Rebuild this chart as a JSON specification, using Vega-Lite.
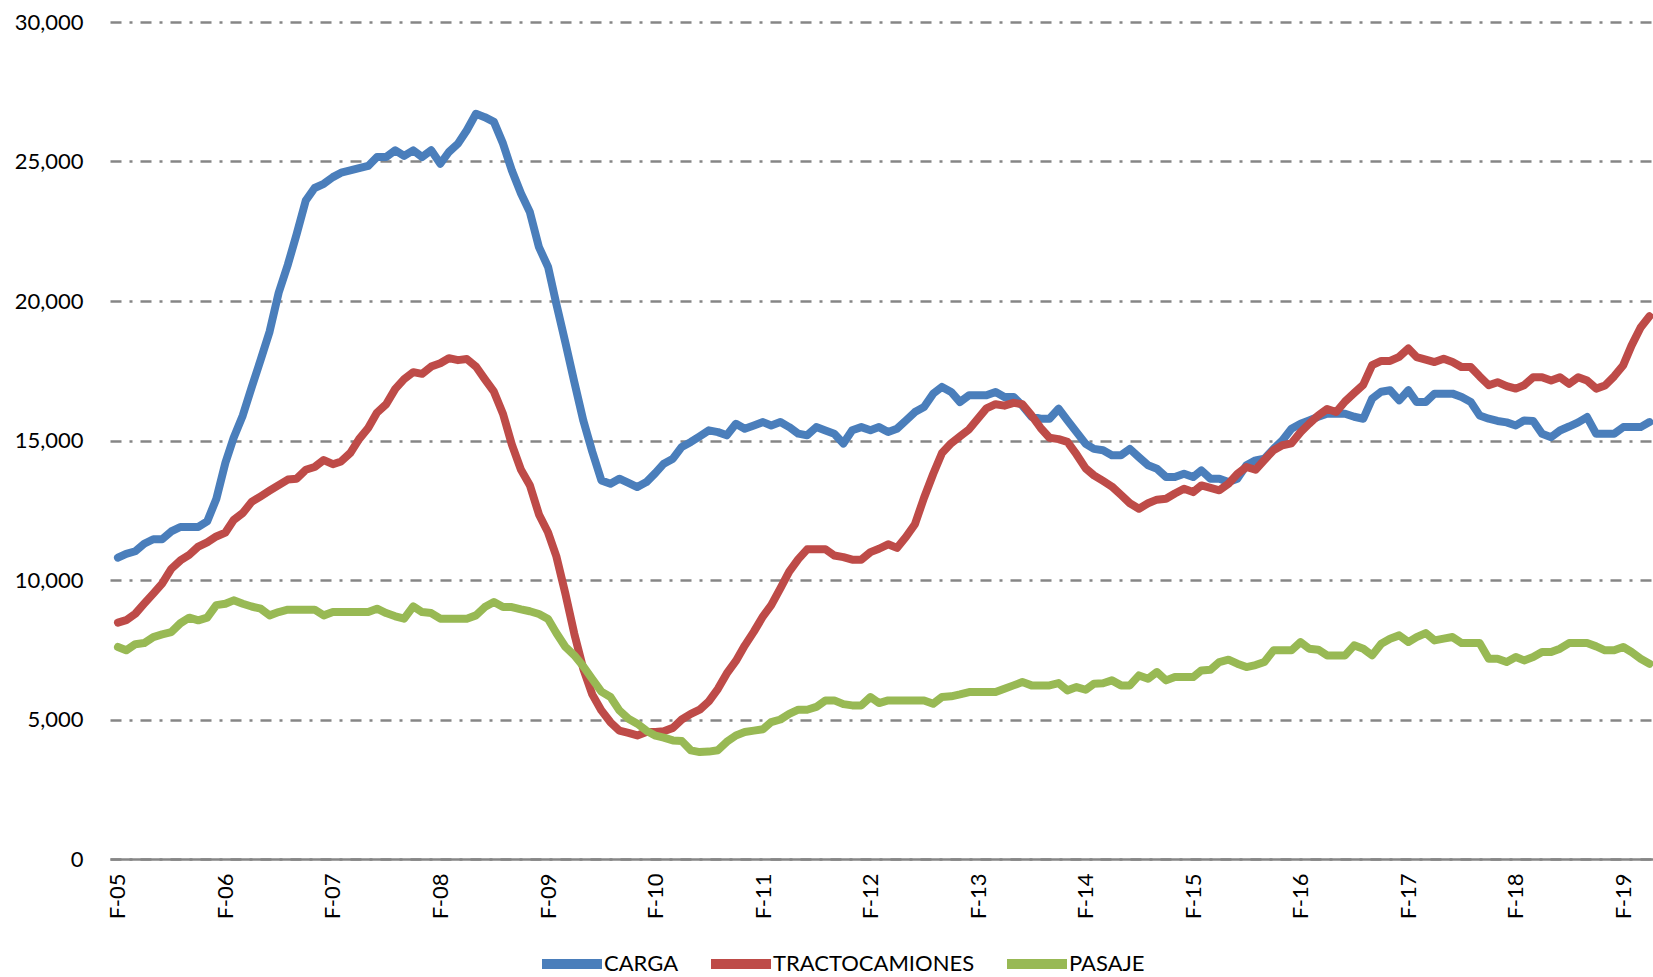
{
  "$schema": "https://vega.github.io/schema/vega-lite/v6.json",
  "width": 1543,
  "height": 837,
  "autosize": {"type": "none"},
  "padding": {"left": 110, "top": 22, "right": 0, "bottom": 118},
  "background": "white",
  "config": {"view": {"stroke": null}},
  "data": {"values": [
    {"mes":"2005-02","CARGA":10800,"TRACTOCAMIONES":8470,"PASAJE":7600},
    {"mes":"2005-03","CARGA":10940,"TRACTOCAMIONES":8560,"PASAJE":7480},
    {"mes":"2005-04","CARGA":11030,"TRACTOCAMIONES":8790,"PASAJE":7700},
    {"mes":"2005-05","CARGA":11300,"TRACTOCAMIONES":9150,"PASAJE":7740},
    {"mes":"2005-06","CARGA":11460,"TRACTOCAMIONES":9510,"PASAJE":7955},
    {"mes":"2005-07","CARGA":11460,"TRACTOCAMIONES":9870,"PASAJE":8050},
    {"mes":"2005-08","CARGA":11740,"TRACTOCAMIONES":10400,"PASAJE":8135},
    {"mes":"2005-09","CARGA":11900,"TRACTOCAMIONES":10700,"PASAJE":8450},
    {"mes":"2005-10","CARGA":11900,"TRACTOCAMIONES":10900,"PASAJE":8650},
    {"mes":"2005-11","CARGA":11900,"TRACTOCAMIONES":11200,"PASAJE":8553},
    {"mes":"2005-12","CARGA":12100,"TRACTOCAMIONES":11350,"PASAJE":8650},
    {"mes":"2006-01","CARGA":12900,"TRACTOCAMIONES":11560,"PASAJE":9100},
    {"mes":"2006-02","CARGA":14200,"TRACTOCAMIONES":11700,"PASAJE":9150},
    {"mes":"2006-03","CARGA":15100,"TRACTOCAMIONES":12150,"PASAJE":9270},
    {"mes":"2006-04","CARGA":15900,"TRACTOCAMIONES":12400,"PASAJE":9150},
    {"mes":"2006-05","CARGA":16900,"TRACTOCAMIONES":12800,"PASAJE":9050},
    {"mes":"2006-06","CARGA":17900,"TRACTOCAMIONES":13000,"PASAJE":8971},
    {"mes":"2006-07","CARGA":18900,"TRACTOCAMIONES":13200,"PASAJE":8732},
    {"mes":"2006-08","CARGA":20300,"TRACTOCAMIONES":13400,"PASAJE":8852},
    {"mes":"2006-09","CARGA":21300,"TRACTOCAMIONES":13600,"PASAJE":8936},
    {"mes":"2006-10","CARGA":22400,"TRACTOCAMIONES":13630,"PASAJE":8936},
    {"mes":"2006-11","CARGA":23600,"TRACTOCAMIONES":13950,"PASAJE":8936},
    {"mes":"2006-12","CARGA":24050,"TRACTOCAMIONES":14050,"PASAJE":8936},
    {"mes":"2007-01","CARGA":24200,"TRACTOCAMIONES":14300,"PASAJE":8732},
    {"mes":"2007-02","CARGA":24440,"TRACTOCAMIONES":14150,"PASAJE":8852},
    {"mes":"2007-03","CARGA":24600,"TRACTOCAMIONES":14250,"PASAJE":8852},
    {"mes":"2007-04","CARGA":24680,"TRACTOCAMIONES":14550,"PASAJE":8852},
    {"mes":"2007-05","CARGA":24760,"TRACTOCAMIONES":15050,"PASAJE":8852},
    {"mes":"2007-06","CARGA":24840,"TRACTOCAMIONES":15450,"PASAJE":8852},
    {"mes":"2007-07","CARGA":25160,"TRACTOCAMIONES":16000,"PASAJE":8971},
    {"mes":"2007-08","CARGA":25160,"TRACTOCAMIONES":16300,"PASAJE":8816},
    {"mes":"2007-09","CARGA":25400,"TRACTOCAMIONES":16850,"PASAJE":8700},
    {"mes":"2007-10","CARGA":25200,"TRACTOCAMIONES":17200,"PASAJE":8613},
    {"mes":"2007-11","CARGA":25400,"TRACTOCAMIONES":17450,"PASAJE":9055},
    {"mes":"2007-12","CARGA":25160,"TRACTOCAMIONES":17390,"PASAJE":8852},
    {"mes":"2008-01","CARGA":25400,"TRACTOCAMIONES":17650,"PASAJE":8816},
    {"mes":"2008-02","CARGA":24920,"TRACTOCAMIONES":17770,"PASAJE":8613},
    {"mes":"2008-03","CARGA":25340,"TRACTOCAMIONES":17950,"PASAJE":8613},
    {"mes":"2008-04","CARGA":25640,"TRACTOCAMIONES":17880,"PASAJE":8613},
    {"mes":"2008-05","CARGA":26120,"TRACTOCAMIONES":17920,"PASAJE":8613},
    {"mes":"2008-06","CARGA":26710,"TRACTOCAMIONES":17650,"PASAJE":8732},
    {"mes":"2008-07","CARGA":26590,"TRACTOCAMIONES":17200,"PASAJE":9031},
    {"mes":"2008-08","CARGA":26420,"TRACTOCAMIONES":16750,"PASAJE":9210},
    {"mes":"2008-09","CARGA":25640,"TRACTOCAMIONES":15950,"PASAJE":9031},
    {"mes":"2008-10","CARGA":24680,"TRACTOCAMIONES":14850,"PASAJE":9031},
    {"mes":"2008-11","CARGA":23850,"TRACTOCAMIONES":13950,"PASAJE":8950},
    {"mes":"2008-12","CARGA":23190,"TRACTOCAMIONES":13400,"PASAJE":8880},
    {"mes":"2009-01","CARGA":21930,"TRACTOCAMIONES":12350,"PASAJE":8780},
    {"mes":"2009-02","CARGA":21220,"TRACTOCAMIONES":11700,"PASAJE":8600},
    {"mes":"2009-03","CARGA":19900,"TRACTOCAMIONES":10850,"PASAJE":8100},
    {"mes":"2009-04","CARGA":18500,"TRACTOCAMIONES":9500,"PASAJE":7600},
    {"mes":"2009-05","CARGA":17100,"TRACTOCAMIONES":8075,"PASAJE":7300},
    {"mes":"2009-06","CARGA":15700,"TRACTOCAMIONES":6800,"PASAJE":6900},
    {"mes":"2009-07","CARGA":14600,"TRACTOCAMIONES":5900,"PASAJE":6450},
    {"mes":"2009-08","CARGA":13570,"TRACTOCAMIONES":5326,"PASAJE":6000},
    {"mes":"2009-09","CARGA":13450,"TRACTOCAMIONES":4900,"PASAJE":5805},
    {"mes":"2009-10","CARGA":13630,"TRACTOCAMIONES":4600,"PASAJE":5326},
    {"mes":"2009-11","CARGA":13480,"TRACTOCAMIONES":4520,"PASAJE":5030},
    {"mes":"2009-12","CARGA":13330,"TRACTOCAMIONES":4430,"PASAJE":4850},
    {"mes":"2010-01","CARGA":13510,"TRACTOCAMIONES":4550,"PASAJE":4600},
    {"mes":"2010-02","CARGA":13840,"TRACTOCAMIONES":4550,"PASAJE":4420},
    {"mes":"2010-03","CARGA":14170,"TRACTOCAMIONES":4580,"PASAJE":4350},
    {"mes":"2010-04","CARGA":14350,"TRACTOCAMIONES":4700,"PASAJE":4250},
    {"mes":"2010-05","CARGA":14770,"TRACTOCAMIONES":5000,"PASAJE":4227},
    {"mes":"2010-06","CARGA":14950,"TRACTOCAMIONES":5200,"PASAJE":3893},
    {"mes":"2010-07","CARGA":15150,"TRACTOCAMIONES":5350,"PASAJE":3833},
    {"mes":"2010-08","CARGA":15365,"TRACTOCAMIONES":5650,"PASAJE":3850},
    {"mes":"2010-09","CARGA":15300,"TRACTOCAMIONES":6100,"PASAJE":3900},
    {"mes":"2010-10","CARGA":15185,"TRACTOCAMIONES":6650,"PASAJE":4200},
    {"mes":"2010-11","CARGA":15600,"TRACTOCAMIONES":7100,"PASAJE":4430},
    {"mes":"2010-12","CARGA":15420,"TRACTOCAMIONES":7650,"PASAJE":4550},
    {"mes":"2011-01","CARGA":15540,"TRACTOCAMIONES":8150,"PASAJE":4600},
    {"mes":"2011-02","CARGA":15660,"TRACTOCAMIONES":8700,"PASAJE":4650},
    {"mes":"2011-03","CARGA":15540,"TRACTOCAMIONES":9100,"PASAJE":4908},
    {"mes":"2011-04","CARGA":15660,"TRACTOCAMIONES":9700,"PASAJE":5000},
    {"mes":"2011-05","CARGA":15480,"TRACTOCAMIONES":10300,"PASAJE":5200},
    {"mes":"2011-06","CARGA":15245,"TRACTOCAMIONES":10750,"PASAJE":5350},
    {"mes":"2011-07","CARGA":15185,"TRACTOCAMIONES":11100,"PASAJE":5350},
    {"mes":"2011-08","CARGA":15480,"TRACTOCAMIONES":11100,"PASAJE":5450},
    {"mes":"2011-09","CARGA":15360,"TRACTOCAMIONES":11100,"PASAJE":5685},
    {"mes":"2011-10","CARGA":15245,"TRACTOCAMIONES":10880,"PASAJE":5685},
    {"mes":"2011-11","CARGA":14890,"TRACTOCAMIONES":10820,"PASAJE":5550},
    {"mes":"2011-12","CARGA":15365,"TRACTOCAMIONES":10730,"PASAJE":5506},
    {"mes":"2012-01","CARGA":15480,"TRACTOCAMIONES":10730,"PASAJE":5506},
    {"mes":"2012-02","CARGA":15365,"TRACTOCAMIONES":11000,"PASAJE":5805},
    {"mes":"2012-03","CARGA":15480,"TRACTOCAMIONES":11120,"PASAJE":5590},
    {"mes":"2012-04","CARGA":15305,"TRACTOCAMIONES":11280,"PASAJE":5685},
    {"mes":"2012-05","CARGA":15420,"TRACTOCAMIONES":11150,"PASAJE":5685},
    {"mes":"2012-06","CARGA":15720,"TRACTOCAMIONES":11550,"PASAJE":5685},
    {"mes":"2012-07","CARGA":16020,"TRACTOCAMIONES":12000,"PASAJE":5685},
    {"mes":"2012-08","CARGA":16200,"TRACTOCAMIONES":12950,"PASAJE":5685},
    {"mes":"2012-09","CARGA":16680,"TRACTOCAMIONES":13800,"PASAJE":5566},
    {"mes":"2012-10","CARGA":16920,"TRACTOCAMIONES":14550,"PASAJE":5805},
    {"mes":"2012-11","CARGA":16740,"TRACTOCAMIONES":14900,"PASAJE":5830},
    {"mes":"2012-12","CARGA":16380,"TRACTOCAMIONES":15150,"PASAJE":5900},
    {"mes":"2013-01","CARGA":16620,"TRACTOCAMIONES":15400,"PASAJE":5984},
    {"mes":"2013-02","CARGA":16620,"TRACTOCAMIONES":15800,"PASAJE":5984},
    {"mes":"2013-03","CARGA":16620,"TRACTOCAMIONES":16150,"PASAJE":5984},
    {"mes":"2013-04","CARGA":16740,"TRACTOCAMIONES":16300,"PASAJE":5984},
    {"mes":"2013-05","CARGA":16560,"TRACTOCAMIONES":16250,"PASAJE":6100},
    {"mes":"2013-06","CARGA":16560,"TRACTOCAMIONES":16350,"PASAJE":6223},
    {"mes":"2013-07","CARGA":16250,"TRACTOCAMIONES":16300,"PASAJE":6342},
    {"mes":"2013-08","CARGA":15850,"TRACTOCAMIONES":15900,"PASAJE":6223},
    {"mes":"2013-09","CARGA":15780,"TRACTOCAMIONES":15450,"PASAJE":6223},
    {"mes":"2013-10","CARGA":15780,"TRACTOCAMIONES":15100,"PASAJE":6223},
    {"mes":"2013-11","CARGA":16140,"TRACTOCAMIONES":15050,"PASAJE":6306},
    {"mes":"2013-12","CARGA":15720,"TRACTOCAMIONES":14950,"PASAJE":6044},
    {"mes":"2014-01","CARGA":15300,"TRACTOCAMIONES":14500,"PASAJE":6163},
    {"mes":"2014-02","CARGA":14880,"TRACTOCAMIONES":14000,"PASAJE":6067},
    {"mes":"2014-03","CARGA":14700,"TRACTOCAMIONES":13750,"PASAJE":6282},
    {"mes":"2014-04","CARGA":14650,"TRACTOCAMIONES":13550,"PASAJE":6300},
    {"mes":"2014-05","CARGA":14470,"TRACTOCAMIONES":13350,"PASAJE":6402},
    {"mes":"2014-06","CARGA":14470,"TRACTOCAMIONES":13050,"PASAJE":6223},
    {"mes":"2014-07","CARGA":14700,"TRACTOCAMIONES":12750,"PASAJE":6223},
    {"mes":"2014-08","CARGA":14400,"TRACTOCAMIONES":12556,"PASAJE":6581},
    {"mes":"2014-09","CARGA":14110,"TRACTOCAMIONES":12750,"PASAJE":6462},
    {"mes":"2014-10","CARGA":13990,"TRACTOCAMIONES":12880,"PASAJE":6700},
    {"mes":"2014-11","CARGA":13690,"TRACTOCAMIONES":12915,"PASAJE":6402},
    {"mes":"2014-12","CARGA":13690,"TRACTOCAMIONES":13100,"PASAJE":6522},
    {"mes":"2015-01","CARGA":13810,"TRACTOCAMIONES":13270,"PASAJE":6522},
    {"mes":"2015-02","CARGA":13690,"TRACTOCAMIONES":13150,"PASAJE":6522},
    {"mes":"2015-03","CARGA":13930,"TRACTOCAMIONES":13390,"PASAJE":6760},
    {"mes":"2015-04","CARGA":13630,"TRACTOCAMIONES":13300,"PASAJE":6784},
    {"mes":"2015-05","CARGA":13630,"TRACTOCAMIONES":13214,"PASAJE":7060},
    {"mes":"2015-06","CARGA":13510,"TRACTOCAMIONES":13450,"PASAJE":7143},
    {"mes":"2015-07","CARGA":13630,"TRACTOCAMIONES":13800,"PASAJE":7000},
    {"mes":"2015-08","CARGA":14110,"TRACTOCAMIONES":14050,"PASAJE":6880},
    {"mes":"2015-09","CARGA":14290,"TRACTOCAMIONES":13950,"PASAJE":6950},
    {"mes":"2015-10","CARGA":14350,"TRACTOCAMIONES":14300,"PASAJE":7060},
    {"mes":"2015-11","CARGA":14700,"TRACTOCAMIONES":14650,"PASAJE":7478},
    {"mes":"2015-12","CARGA":15000,"TRACTOCAMIONES":14830,"PASAJE":7478},
    {"mes":"2016-01","CARGA":15420,"TRACTOCAMIONES":14900,"PASAJE":7478},
    {"mes":"2016-02","CARGA":15600,"TRACTOCAMIONES":15300,"PASAJE":7776},
    {"mes":"2016-03","CARGA":15720,"TRACTOCAMIONES":15600,"PASAJE":7537},
    {"mes":"2016-04","CARGA":15850,"TRACTOCAMIONES":15900,"PASAJE":7501},
    {"mes":"2016-05","CARGA":15960,"TRACTOCAMIONES":16130,"PASAJE":7298},
    {"mes":"2016-06","CARGA":15960,"TRACTOCAMIONES":16020,"PASAJE":7298},
    {"mes":"2016-07","CARGA":15960,"TRACTOCAMIONES":16400,"PASAJE":7298},
    {"mes":"2016-08","CARGA":15850,"TRACTOCAMIONES":16700,"PASAJE":7657},
    {"mes":"2016-09","CARGA":15780,"TRACTOCAMIONES":17000,"PASAJE":7537},
    {"mes":"2016-10","CARGA":16500,"TRACTOCAMIONES":17700,"PASAJE":7298},
    {"mes":"2016-11","CARGA":16750,"TRACTOCAMIONES":17850,"PASAJE":7717},
    {"mes":"2016-12","CARGA":16800,"TRACTOCAMIONES":17850,"PASAJE":7896},
    {"mes":"2017-01","CARGA":16440,"TRACTOCAMIONES":18000,"PASAJE":8015},
    {"mes":"2017-02","CARGA":16800,"TRACTOCAMIONES":18300,"PASAJE":7776},
    {"mes":"2017-03","CARGA":16380,"TRACTOCAMIONES":17990,"PASAJE":7955},
    {"mes":"2017-04","CARGA":16380,"TRACTOCAMIONES":17900,"PASAJE":8099},
    {"mes":"2017-05","CARGA":16680,"TRACTOCAMIONES":17810,"PASAJE":7836},
    {"mes":"2017-06","CARGA":16680,"TRACTOCAMIONES":17930,"PASAJE":7900},
    {"mes":"2017-07","CARGA":16680,"TRACTOCAMIONES":17810,"PASAJE":7955},
    {"mes":"2017-08","CARGA":16560,"TRACTOCAMIONES":17630,"PASAJE":7740},
    {"mes":"2017-09","CARGA":16380,"TRACTOCAMIONES":17630,"PASAJE":7740},
    {"mes":"2017-10","CARGA":15900,"TRACTOCAMIONES":17300,"PASAJE":7740},
    {"mes":"2017-11","CARGA":15780,"TRACTOCAMIONES":16980,"PASAJE":7179},
    {"mes":"2017-12","CARGA":15700,"TRACTOCAMIONES":17090,"PASAJE":7179},
    {"mes":"2018-01","CARGA":15650,"TRACTOCAMIONES":16950,"PASAJE":7060},
    {"mes":"2018-02","CARGA":15540,"TRACTOCAMIONES":16860,"PASAJE":7238},
    {"mes":"2018-03","CARGA":15720,"TRACTOCAMIONES":16980,"PASAJE":7119},
    {"mes":"2018-04","CARGA":15700,"TRACTOCAMIONES":17270,"PASAJE":7238},
    {"mes":"2018-05","CARGA":15240,"TRACTOCAMIONES":17270,"PASAJE":7418},
    {"mes":"2018-06","CARGA":15120,"TRACTOCAMIONES":17150,"PASAJE":7418},
    {"mes":"2018-07","CARGA":15360,"TRACTOCAMIONES":17270,"PASAJE":7537},
    {"mes":"2018-08","CARGA":15500,"TRACTOCAMIONES":17030,"PASAJE":7740},
    {"mes":"2018-09","CARGA":15650,"TRACTOCAMIONES":17270,"PASAJE":7740},
    {"mes":"2018-10","CARGA":15840,"TRACTOCAMIONES":17150,"PASAJE":7740},
    {"mes":"2018-11","CARGA":15240,"TRACTOCAMIONES":16860,"PASAJE":7621},
    {"mes":"2018-12","CARGA":15240,"TRACTOCAMIONES":16970,"PASAJE":7478},
    {"mes":"2019-01","CARGA":15240,"TRACTOCAMIONES":17300,"PASAJE":7478},
    {"mes":"2019-02","CARGA":15480,"TRACTOCAMIONES":17700,"PASAJE":7597},
    {"mes":"2019-03","CARGA":15480,"TRACTOCAMIONES":18400,"PASAJE":7418},
    {"mes":"2019-04","CARGA":15480,"TRACTOCAMIONES":19050,"PASAJE":7179},
    {"mes":"2019-05","CARGA":15660,"TRACTOCAMIONES":19450,"PASAJE":7000}
  ]},
  "transform": [{"fold": ["CARGA", "TRACTOCAMIONES", "PASAJE"], "as": ["serie", "valor"]}],
  "mark": {"type": "line", "strokeWidth": 8, "strokeJoin": "round", "strokeCap": "round", "clip": true},
  "encoding": {
    "x": {
      "field": "mes", "type": "temporal",
      "scale": {"type": "utc", "domain": [{"year": 2005, "month": 1, "date": 5, "utc": true}, {"year": 2019, "month": 5, "date": 13, "utc": true}]},
      "axis": {
        "title": null,
        "values": [
          {"year": 2005, "month": 2, "date": 1, "utc": true}, {"year": 2006, "month": 2, "date": 1, "utc": true},
          {"year": 2007, "month": 2, "date": 1, "utc": true}, {"year": 2008, "month": 2, "date": 1, "utc": true},
          {"year": 2009, "month": 2, "date": 1, "utc": true}, {"year": 2010, "month": 2, "date": 1, "utc": true},
          {"year": 2011, "month": 2, "date": 1, "utc": true}, {"year": 2012, "month": 2, "date": 1, "utc": true},
          {"year": 2013, "month": 2, "date": 1, "utc": true}, {"year": 2014, "month": 2, "date": 1, "utc": true},
          {"year": 2015, "month": 2, "date": 1, "utc": true}, {"year": 2016, "month": 2, "date": 1, "utc": true},
          {"year": 2017, "month": 2, "date": 1, "utc": true}, {"year": 2018, "month": 2, "date": 1, "utc": true},
          {"year": 2019, "month": 2, "date": 1, "utc": true}
        ],
        "labelExpr": "'F-' + utcFormat(datum.value, '%y')",
        "labelAngle": 270,
        "labelAlign": "right",
        "labelBaseline": "middle",
        "labelFont": "Lato",
        "labelFontSize": 22,
        "labelColor": "#000000",
        "labelPadding": 14,
        "labelOverlap": false,
        "labelFlush": false,
        "labelBound": false,
        "ticks": false,
        "grid": false,
        "domainColor": "#868686",
        "domainWidth": 2.5
      }
    },
    "y": {
      "field": "valor", "type": "quantitative",
      "scale": {"domain": [0, 30000], "nice": false, "zero": true},
      "axis": {
        "title": null,
        "values": [0, 5000, 10000, 15000, 20000, 25000, 30000],
        "format": ",.0f",
        "labelFont": "Lato",
        "labelFontSize": 22,
        "labelColor": "#000000",
        "labelPadding": 27,
        "ticks": false,
        "domain": false,
        "grid": true,
        "gridColor": "#868686",
        "gridWidth": 2.5,
        "gridDash": [11, 8, 3, 8]
      }
    },
    "color": {
      "field": "serie", "type": "nominal",
      "scale": {"domain": ["CARGA", "TRACTOCAMIONES", "PASAJE"], "range": ["#4A7EBB", "#BE4B48", "#98B954"]},
      "legend": {
        "title": null,
        "orient": "none",
        "direction": "horizontal",
        "legendX": 427,
        "legendY": 907,
        "padding": 0,
        "symbolType": "stroke",
        "symbolSize": 3600,
        "symbolStrokeWidth": 10,
        "labelFont": "Lato",
        "labelFontSize": 22,
        "labelColor": "#000000",
        "labelOffset": -3,
        "labelLimit": 400,
        "columnPadding": 12
      }
    }
  }
}
